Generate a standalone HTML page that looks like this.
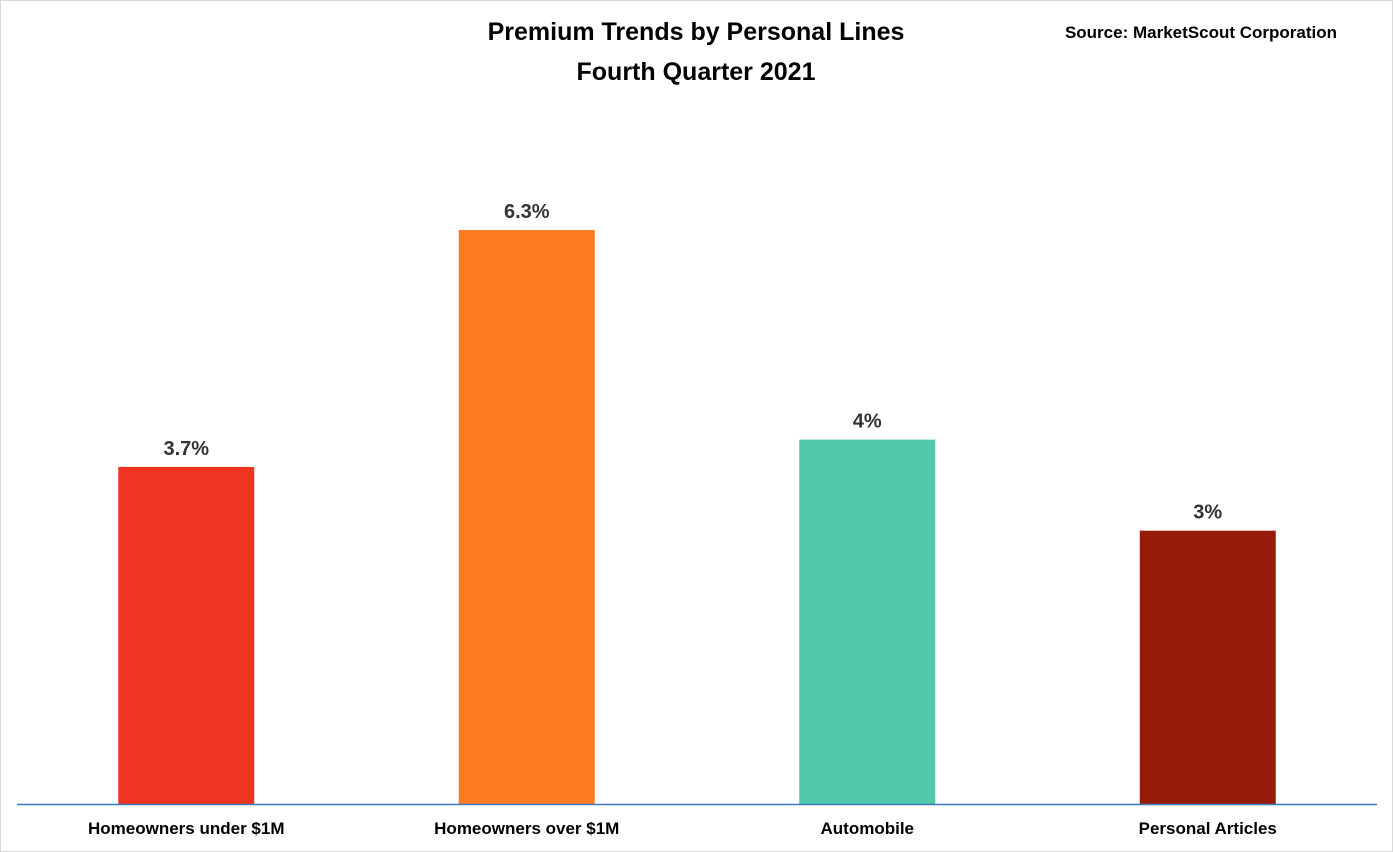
<!DOCTYPE html>
<html><head><meta charset="utf-8"><style>
html,body{margin:0;padding:0;background:#fff;}
svg{display:block;font-family:"Liberation Sans",sans-serif;}
</style></head><body>
<svg id="chart" width="1393" height="852" viewBox="0 0 1393 852">
<rect x="0.5" y="0.5" width="1392" height="851" fill="#fff" stroke="#d9d9d9"/>
<text x="696" y="40" text-anchor="middle" font-size="25" font-weight="bold" fill="#000">Premium Trends by Personal Lines</text>
<text x="696" y="80" text-anchor="middle" font-size="25" font-weight="bold" fill="#000">Fourth Quarter 2021</text>
<text x="1337" y="38" text-anchor="end" font-size="17" font-weight="bold" fill="#000">Source: MarketScout  Corporation</text>
<g id="bars"></g>
<line x1="17" y1="804.5" x2="1377" y2="804.5" stroke="#3a7cc4" stroke-width="1.5"/>
</svg>
<script>
const categories = ["Homeowners under $1M","Homeowners over $1M","Automobile","Personal Articles"];
const values = [3.7, 6.3, 4, 3];
const labels = ["3.7%","6.3%","4%","3%"];
const colors = ["#ee3522","#fe7a1e","#50c8aa","#961b08"];
const base = 804, pxPerUnit = 91.1, bandStart = 16, band = 340.5, barW = 136;
const y = v => base - v * pxPerUnit;
const xc = i => bandStart + band * (i + 0.5) + 0;
const g = document.getElementById('bars');
const NS = "http://www.w3.org/2000/svg";
categories.forEach((c, i) => {
  const r = document.createElementNS(NS, 'rect');
  r.setAttribute('x', xc(i) - barW / 2);
  r.setAttribute('y', y(values[i]));
  r.setAttribute('width', barW);
  r.setAttribute('height', base - y(values[i]));
  r.setAttribute('fill', colors[i]);
  
  
  g.appendChild(r);
  const t = document.createElementNS(NS, 'text');
  t.setAttribute('x', xc(i));
  t.setAttribute('y', y(values[i]) - 12);
  t.setAttribute('text-anchor', 'middle');
  t.setAttribute('font-size', '20');
  t.setAttribute('font-weight', 'bold');
  t.setAttribute('fill', '#333');
  t.textContent = labels[i];
  
  
  g.appendChild(t);
  const l = document.createElementNS(NS, 'text');
  l.setAttribute('x', xc(i));
  l.setAttribute('y', 834);
  l.setAttribute('text-anchor', 'middle');
  l.setAttribute('font-size', '17');
  l.setAttribute('font-weight', 'bold');
  l.setAttribute('fill', '#000');
  l.textContent = c;
  
  
  g.appendChild(l);
});
</script>
</body></html>
